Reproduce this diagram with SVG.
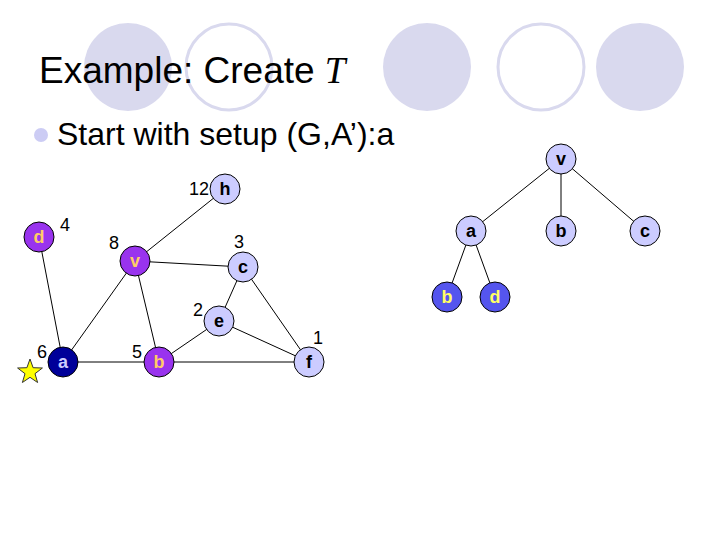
<svg xmlns="http://www.w3.org/2000/svg" width="720" height="540" viewBox="0 0 720 540">
<style>
.deco{fill:#d9d9ee}
.ring{fill:none;stroke:#d9d9ee;stroke-width:3}
.title{font-family:"Liberation Sans",Arial,sans-serif;font-size:37px;fill:#000}
.body{font-family:"Liberation Sans",Arial,sans-serif;font-size:32px;fill:#000}
.edge{stroke:#000;stroke-width:1;fill:none}
.n circle{stroke:#000;stroke-width:1}
.n text{font-family:"Liberation Sans",Arial,sans-serif;font-size:18px;font-weight:bold;text-anchor:middle;dominant-baseline:central}
.light circle{fill:#ccccff}.light text{fill:#000}
.purple circle{fill:#9933ee}.purple text{fill:#ffcc66}
.navy circle{fill:#000099}.navy text{fill:#ccccff}
.blue circle{fill:#5555ee}.blue text{fill:#ffff66}
.w{font-family:"Liberation Sans",Arial,sans-serif;font-size:18px;fill:#000;text-anchor:middle;dominant-baseline:central}
</style>
<rect width="720" height="540" fill="#fff"/>
<g id="decor">
<circle class="deco" cx="128" cy="67" r="44"/>
<circle class="ring" cx="229" cy="67" r="43"/>
<circle class="deco" cx="427" cy="67" r="44"/>
<circle class="ring" cx="541" cy="67" r="43"/>
<circle class="deco" cx="640" cy="67" r="44"/>
</g>
<g id="title">
<text class="title" x="39" y="83">Example: Create <tspan font-family="'Liberation Serif','Times New Roman',serif" font-style="italic">T</tspan></text>
</g>
<g id="bullet">
<circle cx="41" cy="135" r="7" fill="#ccccf4"/>
<text class="body" x="57" y="145">Start with setup (G,A’):a</text>
</g>
<g id="connectors">
<line class="edge" x1="39" y1="237" x2="63" y2="362"/>
<line class="edge" x1="63" y1="362" x2="135" y2="261"/>
<line class="edge" x1="63" y1="362" x2="159" y2="362"/>
<line class="edge" x1="135" y1="261" x2="159" y2="362"/>
<line class="edge" x1="135" y1="261" x2="225" y2="189"/>
<line class="edge" x1="135" y1="261" x2="243" y2="267"/>
<line class="edge" x1="243" y1="267" x2="219" y2="321"/>
<line class="edge" x1="243" y1="267" x2="309" y2="362"/>
<line class="edge" x1="219" y1="321" x2="159" y2="362"/>
<line class="edge" x1="219" y1="321" x2="309" y2="362"/>
<line class="edge" x1="159" y1="362" x2="309" y2="362"/>
<line class="edge" x1="561" y1="159" x2="471" y2="231"/>
<line class="edge" x1="561" y1="159" x2="561" y2="231"/>
<line class="edge" x1="561" y1="159" x2="645" y2="231"/>
<line class="edge" x1="471" y1="231" x2="447" y2="297"/>
<line class="edge" x1="471" y1="231" x2="495" y2="297"/>
</g>
<g id="node-h" class="n light"><circle cx="225" cy="189" r="15"/><text x="225" y="189">h</text></g>
<g id="node-d" class="n purple"><circle cx="39" cy="237" r="15"/><text x="39" y="237">d</text></g>
<g id="node-v" class="n purple"><circle cx="135" cy="261" r="15"/><text x="135" y="261">v</text></g>
<g id="node-c" class="n light"><circle cx="243" cy="267" r="15"/><text x="243" y="267">c</text></g>
<g id="node-e" class="n light"><circle cx="219" cy="321" r="15"/><text x="219" y="321">e</text></g>
<g id="node-a" class="n navy"><circle cx="63" cy="362" r="15"/><text x="63" y="362">a</text></g>
<g id="node-b" class="n purple"><circle cx="159" cy="362" r="15"/><text x="159" y="362">b</text></g>
<g id="node-f" class="n light"><circle cx="309" cy="362" r="15"/><text x="309" y="362">f</text></g>
<g id="weights">
<text class="w" x="199" y="189">12</text>
<text class="w" x="65" y="225">4</text>
<text class="w" x="114" y="243">8</text>
<text class="w" x="239" y="242">3</text>
<text class="w" x="198" y="310">2</text>
<text class="w" x="318" y="338">1</text>
<text class="w" x="42" y="352">6</text>
<text class="w" x="137" y="352">5</text>
</g>
<g id="star">
<polygon points="30,359 33.1,367.7 42.4,368 35,373.7 37.6,382.5 30,377.3 22.4,382.5 25,373.7 17.6,368 26.9,367.7" fill="#ffff00" stroke="#333" stroke-width="1"/>
</g>
<g id="tree-v" class="n light"><circle cx="561" cy="159" r="15"/><text x="561" y="159">v</text></g>
<g id="tree-a" class="n light"><circle cx="471" cy="231" r="15"/><text x="471" y="231">a</text></g>
<g id="tree-b" class="n light"><circle cx="561" cy="231" r="15"/><text x="561" y="231">b</text></g>
<g id="tree-c" class="n light"><circle cx="645" cy="231" r="15"/><text x="645" y="231">c</text></g>
<g id="tree-b2" class="n blue"><circle cx="447" cy="297" r="15"/><text x="447" y="297">b</text></g>
<g id="tree-d2" class="n blue"><circle cx="495" cy="297" r="15"/><text x="495" y="297">d</text></g>
</svg>
